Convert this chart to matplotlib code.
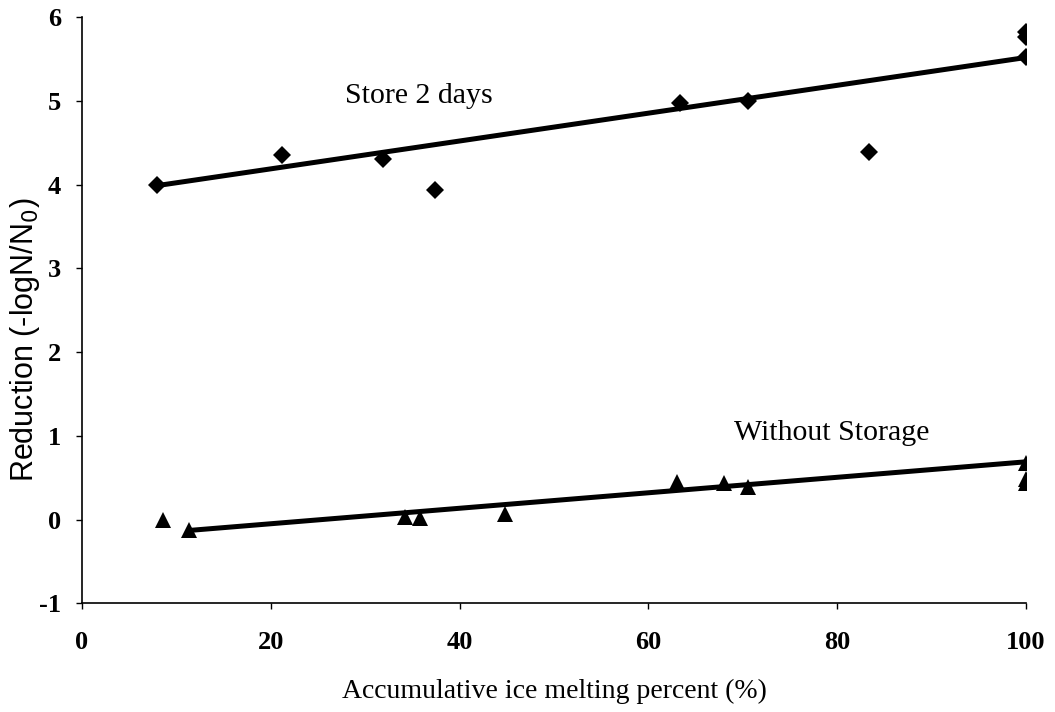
import numpy as np
import matplotlib
matplotlib.use("Agg")
import matplotlib.pyplot as plt

# stored 2 days before treatment
x_store = [8.0, 21.2, 31.9, 37.4, 63.4, 70.5, 83.4, 100.0, 100.0, 100.0]
y_store = [4.00, 4.35, 4.31, 3.94, 4.98, 5.00, 4.39, 5.53, 5.77, 5.83]

# treated without storage
x_nostore = [8.6, 11.3, 34.2, 35.8, 44.8, 63.0, 68.0, 70.5, 100.0, 100.0, 100.0]
y_nostore = [0.00, -0.13, 0.03, 0.02, 0.07, 0.45, 0.44, 0.39, 0.68, 0.49, 0.44]

# trend lines (slope, intercept) and their x span
fit_store = (0.01663, 3.857)
fit_nostore = (0.00925, -0.235)
span_store = [8.0, 100.0]
span_nostore = [11.3, 100.0]

xticks = [0, 20, 40, 60, 80, 100]
yticks = [-1, 0, 1, 2, 3, 4, 5, 6]
ytick_labels = ['-1', '0', '1', '2', '3', '4', '5', '6']

plt.rcParams['font.family'] = ['Liberation Serif', 'DejaVu Serif']

fig = plt.figure(figsize=(10.55, 7.12), dpi=100)
ax = fig.add_axes([0.0777, 0.1527, 0.8948, 0.823])

xs = np.array(span_store)
ax.plot(xs, fit_store[0] * xs + fit_store[1], color='black', lw=3.6, solid_capstyle='butt', zorder=2)
xs = np.array(span_nostore)
ax.plot(xs, fit_nostore[0] * xs + fit_nostore[1], color='black', lw=3.6, solid_capstyle='butt', zorder=2)

ax.plot(x_store, y_store, 'D', color='black', ms=9, mew=0, zorder=3)
ax.plot(x_nostore, y_nostore, '^', color='black', ms=11, mew=0, zorder=3)

ax.text(35.7, 5.06, 'Store 2 days', ha='center', va='center', fontsize=21.5)
ax.text(79.4, 1.03, 'Without Storage', ha='center', va='center', fontsize=21.5)

ax.set_xlim(0, 100)
ax.set_ylim(-1, 6)
ax.set_xticks(xticks)
ax.set_yticks(yticks)
ax.set_yticklabels(ytick_labels)
ax.spines['top'].set_visible(False)
ax.spines['right'].set_visible(False)
for s in ['left', 'bottom']:
    ax.spines[s].set_linewidth(1.2)
ax.tick_params(axis='both', direction='out', length=4, width=1, labelsize=19)
ax.tick_params(axis='x', pad=16)
ax.tick_params(axis='y', pad=11)
for lab in ax.get_xticklabels() + ax.get_yticklabels():
    lab.set_fontweight('bold')

ax.set_xlabel('Accumulative ice melting percent (%)', fontsize=20, labelpad=18)
ax.set_ylabel('Reduction (-logN/N$_0$)', fontsize=22, family='Liberation Sans')
ax.yaxis.set_label_coords(-0.042, 0.45)

fig.savefig('out.png', dpi=100)
